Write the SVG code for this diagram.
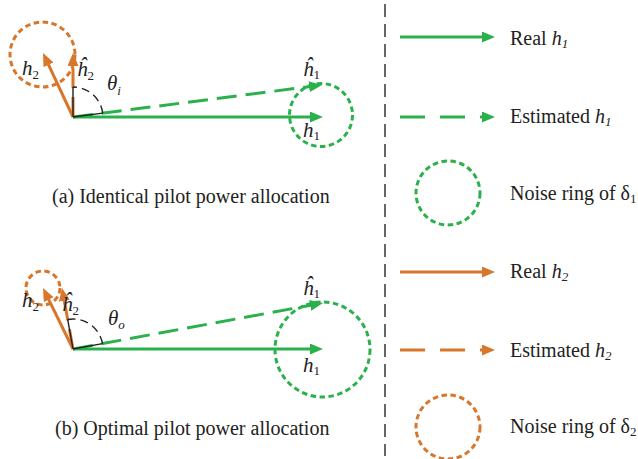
<svg xmlns="http://www.w3.org/2000/svg" width="638" height="459" viewBox="0 0 638 459">
<style>
.g{stroke:#2bb14c;stroke-width:3;fill:none}
.o{stroke:#d8762c;stroke-width:3;fill:none}
.dl{stroke-dasharray:20 9}
.dleg{stroke-dasharray:25 15}
.ringg{stroke:#2bb14c;stroke-width:3;fill:none;stroke-dasharray:5.5 3.5}
.ringo{stroke:#d8762c;stroke-width:3;fill:none;stroke-dasharray:5.5 3.5}
.ang{stroke:#222;stroke-width:1.4;fill:none}
.angd{stroke:#222;stroke-width:1.4;fill:none;stroke-dasharray:8 5}
.sep{stroke:#333;stroke-width:1.5;stroke-dasharray:13 7}
text{font-family:"Liberation Serif","Times New Roman",serif;fill:#222}
.cap{font-size:20px}
.lab{font-size:21px}
.it{font-style:italic}
.sub{font-size:13px}
</style>
<defs>
<marker id="ag" markerUnits="userSpaceOnUse" markerWidth="13" markerHeight="11" viewBox="0 0 13 11" refX="7" refY="5.5" orient="auto">
<path d="M0,0 L13,5.5 L0,11 z" fill="#2bb14c"/>
</marker>
<marker id="ao" markerUnits="userSpaceOnUse" markerWidth="13" markerHeight="11" viewBox="0 0 13 11" refX="7" refY="5.5" orient="auto">
<path d="M0,0 L13,5.5 L0,11 z" fill="#d8762c"/>
</marker>
</defs>

<g id="separator">
<line class="sep" x1="385" y1="4" x2="385" y2="456"/>
</g>

<g id="rings">
<circle id="ring-h2-a" class="ringo" cx="42.5" cy="54.5" r="32.5"/>
<circle id="ring-h1-a" class="ringg" cx="321" cy="115" r="31.5"/>
<circle id="ring-h2-b" class="ringo" cx="43" cy="288" r="17"/>
<circle id="ring-h1-b" class="ringg" cx="322.5" cy="349.5" r="47.5"/>
</g>

<g id="connectors">
<line class="g" x1="73" y1="117" x2="317" y2="117" marker-end="url(#ag)"/>
<line class="g dl" x1="73" y1="117" x2="316.05" y2="85.77" marker-end="url(#ag)"/>
<line class="o" x1="73" y1="117" x2="45.55" y2="58.43" marker-end="url(#ao)"/>
<line class="o dl" x1="73" y1="117" x2="73" y2="59" marker-end="url(#ao)"/>
<line class="g" x1="73" y1="349" x2="317" y2="349" marker-end="url(#ag)"/>
<line class="g dl" x1="73" y1="349" x2="317.1" y2="304.09" marker-end="url(#ag)"/>
<line class="o" x1="73" y1="349" x2="45.65" y2="293.38" marker-end="url(#ao)"/>
<line class="o dl" x1="73" y1="349" x2="63.07" y2="293.9" marker-end="url(#ao)"/>
</g>

<g id="angle-a">
<path class="ang" d="M73,117 L102.75,113.17 M73,117 L73,87"/>
<path class="angd" d="M102.75,113.17 A30,30 0 0 0 73,87"/>
</g>
<g id="angle-b">
<path class="ang" d="M73,349 L102.5,343.57 M73,349 L67.67,319.47"/>
<path class="angd" d="M102.5,343.57 A30,30 0 0 0 67.67,319.47"/>
</g>

<g id="labels-a">
<text class="lab" x="22" y="75"><tspan class="it">h</tspan><tspan class="sub" dy="4">2</tspan></text>
<text class="lab" x="77" y="76"><tspan class="it">ĥ</tspan><tspan class="sub" dy="4">2</tspan></text>
<text class="lab" x="107" y="90"><tspan class="it">θ</tspan><tspan class="sub it" dy="5">i</tspan></text>
<text class="lab" x="303" y="76"><tspan class="it">ĥ</tspan><tspan class="sub" dy="3">1</tspan></text>
<text class="lab" x="303" y="137"><tspan class="it">h</tspan><tspan class="sub" dy="3">1</tspan></text>
<text class="cap" x="52" y="203">(a) Identical pilot power allocation</text>
</g>

<g id="labels-b">
<text class="lab" x="22" y="307"><tspan class="it">h</tspan><tspan class="sub" dy="4">2</tspan></text>
<text class="lab" x="62" y="311"><tspan class="it">ĥ</tspan><tspan class="sub" dy="4">2</tspan></text>
<text class="lab" x="108" y="325"><tspan class="it">θ</tspan><tspan class="sub it" dy="4">o</tspan></text>
<text class="lab" x="303" y="295"><tspan class="it">ĥ</tspan><tspan class="sub" dy="3">1</tspan></text>
<text class="lab" x="303" y="372"><tspan class="it">h</tspan><tspan class="sub" dy="3">1</tspan></text>
<text class="cap" x="55" y="435">(b) Optimal pilot power allocation</text>
</g>

<g id="legend-real-h1">
<line class="g" x1="400" y1="37" x2="489" y2="37" marker-end="url(#ag)"/>
<text class="cap" x="510" y="45">Real <tspan class="it">h</tspan><tspan class="it sub" dy="3">1</tspan></text>
</g>
<g id="legend-est-h1">
<line class="g dleg" x1="400" y1="117" x2="489" y2="117" marker-end="url(#ag)"/>
<text class="cap" x="510" y="123">Estimated <tspan class="it">h</tspan><tspan class="it sub" dy="3">1</tspan></text>
</g>
<g id="legend-ring-1">
<circle class="ringg" cx="448" cy="193" r="32"/>
<text class="cap" x="510" y="200">Noise ring of δ<tspan class="sub" dy="3">1</tspan></text>
</g>
<g id="legend-real-h2">
<line class="o" x1="400" y1="272" x2="489" y2="272" marker-end="url(#ao)"/>
<text class="cap" x="510" y="278">Real <tspan class="it">h</tspan><tspan class="it sub" dy="3">2</tspan></text>
</g>
<g id="legend-est-h2">
<line class="o dleg" x1="400" y1="350" x2="489" y2="350" marker-end="url(#ao)"/>
<text class="cap" x="510" y="357">Estimated <tspan class="it">h</tspan><tspan class="it sub" dy="3">2</tspan></text>
</g>
<g id="legend-ring-2">
<circle class="ringo" cx="448" cy="427" r="32"/>
<text class="cap" x="510" y="433">Noise ring of δ<tspan class="sub" dy="3">2</tspan></text>
</g>
</svg>
